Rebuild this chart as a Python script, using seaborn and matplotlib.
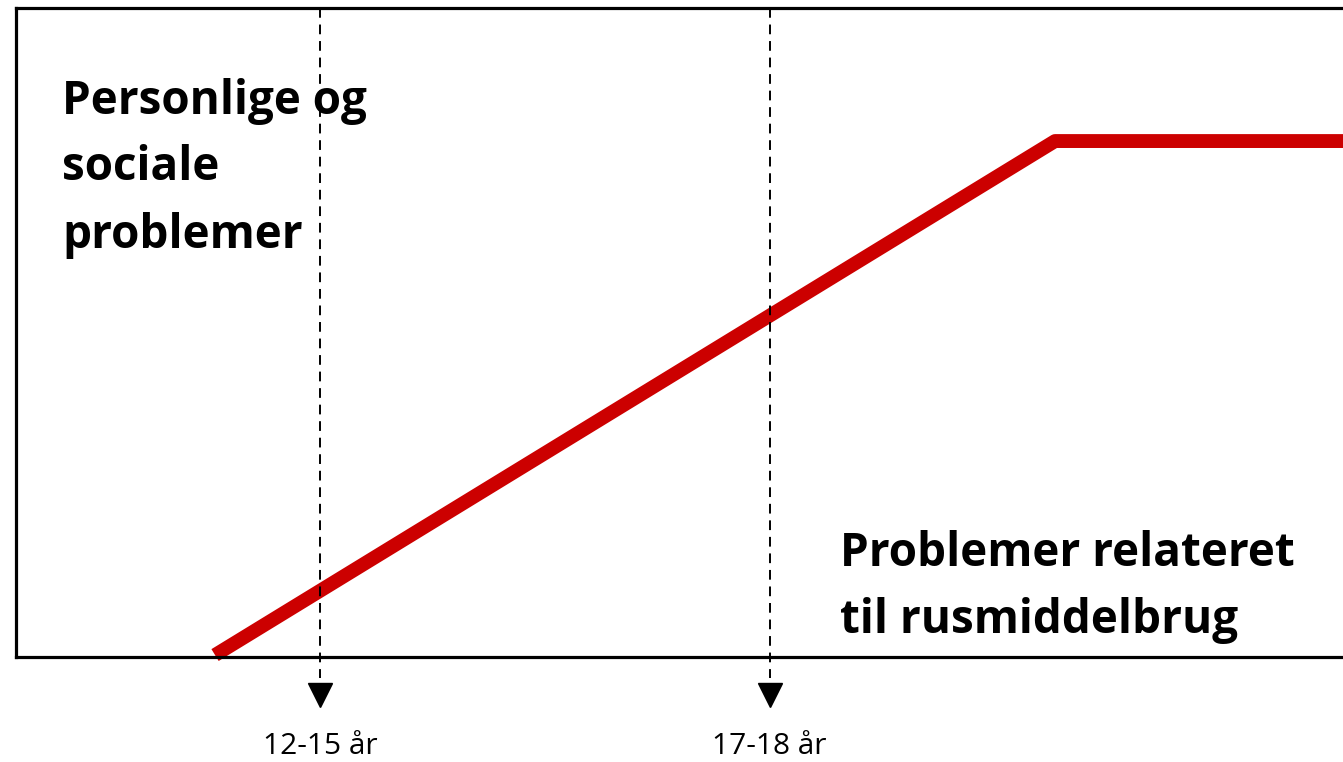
import matplotlib
matplotlib.use("Agg")
import matplotlib.pyplot as plt
import seaborn as sns
import pandas as pd

# Data (axis units 0-100)
line_x = [15.0, 78.3, 100.0]
line_y = [0.3, 79.5, 79.5]
marker_x = [22.9, 56.8]
marker_labels = ["12-15 år", "17-18 år"]
label_top = ["Personlige og", "sociale", "problemer"]
label_bottom = ["Problemer relateret", "til rusmiddelbrug"]

sns.set_theme(style="white")
plt.rcParams['font.family'] = ['Open Sans', 'DejaVu Sans']

fig = plt.figure(figsize=(13.43, 7.62), dpi=100)
ax = fig.add_axes([16/1343, (762-657)/762, 1327/1343, (657-8)/762])

df = pd.DataFrame({"x": line_x, "y": line_y})
sns.lineplot(data=df, x="x", y="y", ax=ax, color="#CC0000", linewidth=10,
             solid_capstyle="butt", clip_on=False)

ax.set_xlim(0, 100)
ax.set_ylim(0, 100)

for xm, lab in zip(marker_x, marker_labels):
    ax.plot([xm, xm], [100, -3.2], color="black", linewidth=1.4,
            linestyle=(0, (5, 3.5)), clip_on=False)
    ax.plot([xm], [-5.9], marker="v", color="black", markersize=17, clip_on=False)
    ax.text(xm, -15.0, lab, ha="center", va="baseline", fontsize=21.5, color="black")

def px_y(py):
    return (657 - py) / 649 * 100

for line, py in zip(label_top, [114, 180, 248]):
    ax.text(3.47, px_y(py), line, ha="left", va="baseline", fontsize=33,
            fontweight="bold", color="black")
for line, py in zip(label_bottom, [566, 633]):
    ax.text(62.09, px_y(py), line, ha="left", va="baseline", fontsize=33,
            fontweight="bold", color="black")

for side in ["left", "top", "bottom"]:
    ax.spines[side].set_visible(True)
    ax.spines[side].set_color("black")
    ax.spines[side].set_linewidth(2.3)
ax.spines["right"].set_visible(False)
ax.set_xticks([])
ax.set_yticks([])
ax.set_xlabel("")
ax.set_ylabel("")

fig.savefig("out.png", dpi=100)
